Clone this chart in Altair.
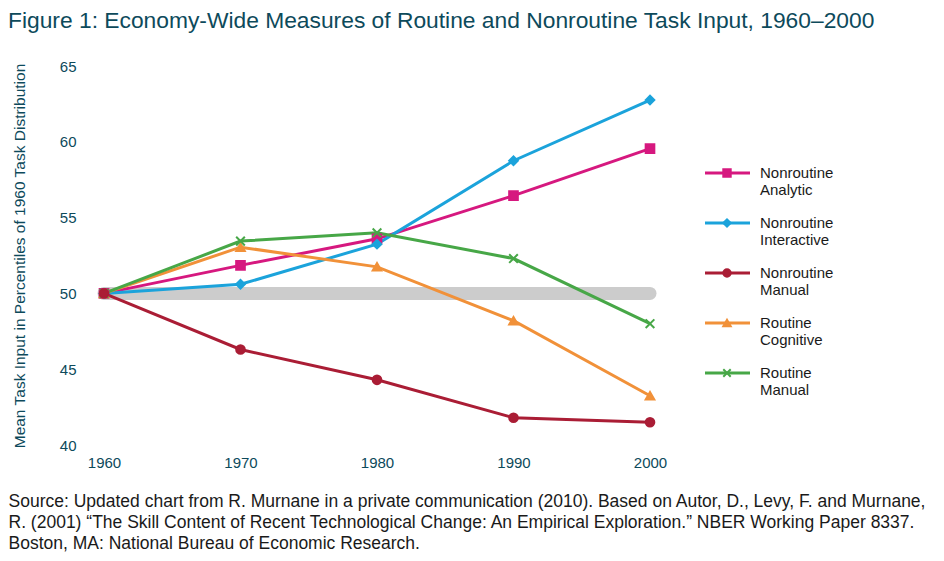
import altair as alt
import pandas as pd

title_text = "Figure 1: Economy-Wide Measures of Routine and Nonroutine Task Input, 1960\u20132000"
y_title = "Mean Task Input in Percentiles of 1960 Task Distribution"
source_lines = [
    "Source: Updated chart from R. Murnane in a private communication (2010). Based on Autor, D., Levy, F. and Murnane,",
    "R. (2001) \u201cThe Skill Content of Recent Technological Change: An Empirical Exploration.\u201d NBER Working Paper 8337.",
    "Boston, MA: National Bureau of Economic Research.",
]

years = [1960, 1970, 1980, 1990, 2000]
series = ["Nonroutine Analytic", "Nonroutine Interactive", "Nonroutine Manual",
          "Routine Cognitive", "Routine Manual"]
nonroutine_analytic = [50.0, 51.85, 53.6, 56.45, 59.55]
nonroutine_interactive = [50.0, 50.6, 53.25, 58.75, 62.75]
nonroutine_manual = [50.0, 46.3, 44.3, 41.8, 41.5]
routine_cognitive = [50.0, 53.05, 51.75, 48.2, 43.25]
routine_manual = [50.0, 53.45, 54.0, 52.3, 48.0]
baseline_value = 50

colors = ["#d6187f", "#1ba3db", "#aa1d35", "#f19139", "#47a747"]
x_path = "M-1,-1L1,1M-1,1L1,-1"
shapes = ["square", "diamond", "circle", "triangle-up", x_path]

values = [nonroutine_analytic, nonroutine_interactive, nonroutine_manual,
          routine_cognitive, routine_manual]
rows = []
for name, vals in zip(series, values):
    for yr, v in zip(years, vals):
        rows.append({"series": name, "year": yr, "value": v})
df = pd.DataFrame(rows)
df["z"] = df["series"].map({s: i for i, s in enumerate(series)})
df.loc[df["series"] == "Nonroutine Manual", "z"] = 10

base_df = pd.DataFrame({"year": [years[0], years[-1]], "value": [baseline_value, baseline_value]})

FONT = "Liberation Sans"
TEAL = "#0d4a5b"

color_scale = alt.Scale(domain=series, range=colors)
shape_scale = alt.Scale(domain=series, range=shapes)

x_enc = alt.X("year:Q",
              scale=alt.Scale(domain=[years[0], years[-1]], nice=False, zero=False),
              axis=alt.Axis(values=years, format="d", grid=False, domain=False, ticks=False,
                            labelFlush=False, labelOverlap=False,
                            labelPadding=10, labelFontSize=15, labelColor=TEAL, labelFont=FONT,
                            title=source_lines, titleAnchor="start", titleAlign="left",
                            titleX=-96, titleY=47, titleBaseline="top", titleFontWeight="normal",
                            titleFontSize=17.5, titleColor="#1a1a1a", titleFont=FONT,
                            titleLineHeight=21))
y_enc = alt.Y("value:Q",
              scale=alt.Scale(domain=[40, 65], nice=False, zero=False),
              axis=alt.Axis(values=[40, 45, 50, 55, 60, 65], grid=False, domain=False, ticks=False,
                            labelFlush=False,
                            labelPadding=28, labelFontSize=15, labelColor=TEAL, labelFont=FONT,
                            title=y_title, titleFontSize=15.5, titleFontWeight="normal",
                            titleColor=TEAL, titleFont=FONT, titlePadding=32))

band = alt.Chart(base_df).mark_line(color="#cccccc", strokeWidth=13, strokeCap="round").encode(
    x=x_enc, y=y_enc)

lines = alt.Chart(df).mark_line(strokeWidth=3).encode(
    x=x_enc, y=y_enc,
    color=alt.Color("series:N", scale=color_scale, legend=None),
    detail="series:N",
)

points = alt.Chart(df).mark_point(filled=True, size=75, strokeWidth=2, opacity=1).encode(
    x=x_enc, y=y_enc,
    color=alt.Color("series:N", scale=color_scale, legend=None),
    stroke=alt.Stroke("series:N", scale=color_scale, legend=None),
    shape=alt.Shape("series:N", scale=shape_scale, legend=None),
    order=alt.Order("z:Q"),
)

main = alt.layer(band, lines, points)

leg_df = pd.DataFrame({"series": series})
leg_y = alt.Y("series:N", scale=alt.Scale(type="point", domain=series, range=[107, 307], padding=0),
              axis=None)
leg_rule = alt.Chart(leg_df).mark_rule(strokeWidth=3).encode(
    y=leg_y, x=alt.value(601), x2=alt.value(646),
    color=alt.Color("series:N", scale=color_scale, legend=None))
leg_pt = alt.Chart(leg_df).mark_point(filled=True, size=55, strokeWidth=2, opacity=1).encode(
    y=leg_y, x=alt.value(623),
    color=alt.Color("series:N", scale=color_scale, legend=None),
    stroke=alt.Stroke("series:N", scale=color_scale, legend=None),
    shape=alt.Shape("series:N", scale=shape_scale, legend=None))
leg_txt = alt.Chart(leg_df).mark_text(align="left", baseline="middle", lineBreak=" ", dy=0,
                                      lineHeight=16.6, fontSize=15, font=FONT,
                                      color="#1a1a1a").encode(
    y=leg_y, x=alt.value(656), text="series:N")
legend = alt.layer(leg_rule, leg_pt, leg_txt)

chart = alt.layer(main, legend).resolve_scale(y="independent").properties(
    width=546, height=379,
    padding={"left": 0, "top": 2, "right": 5, "bottom": 5},
    title=alt.TitleParams(title_text, anchor="start", fontSize=22.8, font=FONT, color=TEAL,
                          fontWeight="normal", offset=26, frame="bounds")
).configure_view(stroke=None)

chart.save("out.html", embed_options={"renderer": "svg", "actions": False})
